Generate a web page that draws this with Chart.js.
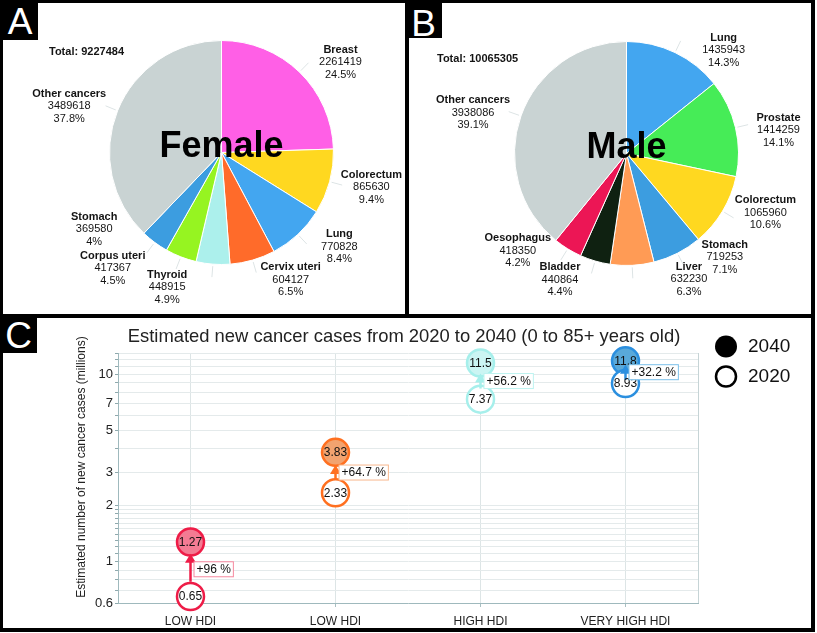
<!DOCTYPE html>
<html><head><meta charset="utf-8">
<script src="https://cdn.jsdelivr.net/npm/chart.js@4.4.1/dist/chart.umd.min.js"></script>
<style>
html,body{margin:0;padding:0;background:#fff;}
#wrap{position:relative;width:817px;height:633px;overflow:hidden;font-family:"Liberation Sans",Arial,sans-serif;background:#fff;}
canvas{position:absolute;}
.bar{position:absolute;background:#000;}
.tag{position:absolute;background:#000;overflow:hidden;}
.tag span{position:absolute;left:0;width:100%;text-align:center;color:#fff;font-size:37px;line-height:37px;}
</style></head>
<body><div id="wrap">
<canvas id="pieF" width="406" height="315" style="left:0;top:0"></canvas>
<canvas id="pieM" width="411" height="315" style="left:406px;top:0"></canvas>
<canvas id="hdi" width="817" height="318" style="left:0;top:315px"></canvas>
<div class="bar" style="left:0;top:0;width:815px;height:3px"></div>
<div class="bar" style="left:0;top:0;width:3px;height:632px"></div>
<div class="bar" style="left:811px;top:0;width:4px;height:632px"></div>
<div class="bar" style="left:0;top:628px;width:815px;height:4px"></div>
<div class="bar" style="left:405px;top:0;width:4px;height:316px"></div>
<div class="bar" style="left:0;top:314px;width:815px;height:4px"></div>
<div class="tag" style="left:0;top:0;width:38px;height:40px"><span style="top:3px;left:1px">A</span></div>
<div class="tag" style="left:405px;top:0;width:37px;height:38px"><span style="top:5px">B</span></div>
<div class="tag" style="left:0;top:314px;width:37px;height:39px"><span style="top:3px">C</span></div>
</div>
<script>
// ---------- data ----------
const femaleSites = ['Breast','Colorectum','Lung','Cervix uteri','Thyroid','Corpus uteri','Stomach','Other cancers'];
const femaleCases = [2261419,865630,770828,604127,448915,417367,369580,3489618];
const femaleTotal = 9227484;
const maleSites = ['Lung','Prostate','Colorectum','Stomach','Liver','Bladder','Oesophagus','Other cancers'];
const maleCases = [1435943,1414259,1065960,719253,632230,440864,418350,3938086];
const maleTotal = 10065305;

const hdiGroups = ['LOW HDI','LOW HDI','HIGH HDI','VERY HIGH HDI'];
const cases2020 = [0.65,2.33,7.37,8.93];
const cases2040 = [1.27,3.83,11.5,11.8];
const changeText = ['+96 %','+64.7 %','+56.2 %','+32.2 %'];
const yTickLabels = [0.6,1,2,3,5,7,10];
const yGridLines = [0.6,0.7,0.8,0.9,1,1.1,1.2,1.3,1.4,1.5,1.6,1.7,1.8,1.9,2,3,4,5,6,7,8,9,10,11,12,13];
const seriesNames = ['2040','2020'];
const chartTitle = 'Estimated new cancer cases from 2020 to 2040 (0 to 85+ years old)';
const yAxisTitle = 'Estimated number of new cancer cases (millions)';

// ---------- style ----------
const FONT = '"Liberation Sans", Arial, sans-serif';
Chart.defaults.font.family = FONT;
const femaleColors = ['#ff5fe6','#ffd820','#43a6f0','#ff6b2a','#acf0ec','#96f421','#3c9de0','#c9d3d3'];
const maleColors = ['#43a6f0','#46ec57','#ffd820','#3c9de0','#ff9b55','#0f2111','#ec1655','#c9d3d3'];
const femaleNudge = [[16,16],[7,-4],[17,-14],[28,-15],[-43,-13],[-55,-22],[-39,-42],[-15,9]];
const maleNudge = [[33,30],[8,11],[12,-17],[31,-28],[55,-22],[-25,-16],[-31,-29],[-14,9]];
const hdiColors = ['#ee1c47','#ff7020','#a6efeb','#2b8fdf'];
const hdiFill2040 = ['#f37b93','#f2a36f','#cbf5f3','#59a9da'];
const hdiBoxBorder = ['#f6889e','#f8b88e','#bdf3f0','#7cc0ea'];

function pieDecor(opts){
  return {
    id: 'pieDecor',
    afterDatasetsDraw(chart){
      const ctx = chart.ctx;
      const meta = chart.getDatasetMeta(0);
      const vals = chart.data.datasets[0].data;
      const labels = chart.data.labels;
      ctx.save();
      let cx = 0, cy = 0;
      meta.data.forEach((arc, i) => {
        const mid = (arc.startAngle + arc.endAngle) / 2;
        const R = arc.outerRadius;
        cx = arc.x; cy = arc.y;
        ctx.strokeStyle = '#dde4e5'; ctx.lineWidth = 1;
        ctx.beginPath();
        ctx.moveTo(cx + Math.cos(mid)*(R+2), cy + Math.sin(mid)*(R+2));
        ctx.lineTo(cx + Math.cos(mid)*(R+13), cy + Math.sin(mid)*(R+13));
        ctx.stroke();
        const ax = cx + Math.cos(mid)*(R+36) + opts.nudge[i][0];
        const ay = cy + Math.sin(mid)*(R+36) + opts.nudge[i][1];
        const pct = parseFloat((vals[i] / opts.total * 100).toFixed(1));
        ctx.fillStyle = '#141414'; ctx.textAlign = 'center'; ctx.textBaseline = 'middle';
        ctx.font = 'bold 11px ' + FONT;
        ctx.fillText(labels[i], ax, ay - 12.5);
        ctx.font = '11px ' + FONT;
        ctx.fillText(String(vals[i]), ax, ay);
        ctx.fillText(pct + '%', ax, ay + 12.5);
      });
      ctx.fillStyle = '#000';
      ctx.font = 'bold 36px ' + FONT;
      ctx.textAlign = 'center'; ctx.textBaseline = 'alphabetic';
      ctx.fillText(opts.title, cx, cy + 4);
      ctx.font = 'bold 11px ' + FONT;
      ctx.fillStyle = '#141414';
      ctx.textAlign = 'left'; ctx.textBaseline = 'middle';
      ctx.fillText('Total: ' + opts.total, chart.chartArea.left + opts.totalDx, chart.chartArea.top + opts.totalDy);
      ctx.restore();
    }
  };
}

function makePie(id, labels, values, colors, padding, opts){
  return new Chart(document.getElementById(id), {
    type: 'pie',
    data: { labels: labels, datasets: [{ data: values, backgroundColor: colors, borderColor: '#ffffff', borderWidth: 1, hoverOffset: 0 }] },
    options: {
      responsive: false, animation: false, events: [],
      layout: { padding: padding },
      plugins: { legend: { display: false }, tooltip: { enabled: false } }
    },
    plugins: [pieDecor(opts)]
  });
}

makePie('pieF', femaleSites, femaleCases, femaleColors, {left:109,right:72,top:40,bottom:50},
  {title:'Female', total:femaleTotal, nudge:femaleNudge, totalDx:-60, totalDy:12});
makePie('pieM', maleSites, maleCases, maleColors, {left:108,right:78,top:41,bottom:49},
  {title:'Male', total:maleTotal, nudge:maleNudge, totalDx:-77, totalDy:18});

// ---------- panel C ----------
const PR = 13.5, PBW = 2.5;
const hdiDecor = {
  id: 'hdiDecor',
  beforeDatasetsDraw(chart){
    const {ctx, chartArea:a} = chart;
    ctx.save();
    ctx.strokeStyle = '#c6d4d6'; ctx.lineWidth = 1;
    ctx.beginPath(); ctx.moveTo(a.right + 0.5, a.top); ctx.lineTo(a.right + 0.5, a.bottom); ctx.stroke();
    ctx.restore();
  },
  afterDatasetsDraw(chart){
    const ctx = chart.ctx;
    const ys = chart.scales.y;
    const m20 = chart.getDatasetMeta(0), m40 = chart.getDatasetMeta(1);
    ctx.save();
    for (let i = 0; i < hdiGroups.length; i++){
      const x = m20.data[i].x, y0 = m20.data[i].y, y1 = m40.data[i].y;
      const r = PR + PBW/2;
      let tail = y0 - r, tip = y1 + r - 3;
      if (tail - tip < 14){ const m = (y0 + y1)/2; tip = m - 7.5; tail = m + 7.5; }
      ctx.strokeStyle = hdiColors[i]; ctx.fillStyle = hdiColors[i]; ctx.lineWidth = 2.5;
      ctx.beginPath(); ctx.moveTo(x, tail); ctx.lineTo(x, tip + 7); ctx.stroke();
      ctx.beginPath(); ctx.moveTo(x, tip); ctx.lineTo(x - 5.5, tip + 9); ctx.lineTo(x + 5.5, tip + 9); ctx.closePath(); ctx.fill();
    }
    ctx.font = '12px ' + FONT; ctx.textAlign = 'center'; ctx.textBaseline = 'middle'; ctx.fillStyle = '#111';
    for (let i = 0; i < hdiGroups.length; i++){
      ctx.fillText(String(cases2040[i]), m40.data[i].x, m40.data[i].y + 0.5);
      ctx.fillText(String(cases2020[i]), m20.data[i].x, m20.data[i].y + 0.5);
    }
    for (let i = 0; i < hdiGroups.length; i++){
      const x = m20.data[i].x;
      const ym = ys.getPixelForValue(Math.sqrt(cases2020[i]*cases2040[i]));
      const w = ctx.measureText(changeText[i]).width;
      ctx.fillStyle = '#fff';
      ctx.fillRect(x + 3.5, ym - 7.5, w + 5, 15);
      ctx.strokeStyle = hdiBoxBorder[i]; ctx.lineWidth = 1;
      ctx.strokeRect(x + 3.5, ym - 7.5, w + 5, 15);
      ctx.fillStyle = '#111'; ctx.textAlign = 'left';
      ctx.fillText(changeText[i], x + 6, ym + 0.5);
    }
    // title
    ctx.fillStyle = '#222'; ctx.textAlign = 'center'; ctx.textBaseline = 'middle';
    ctx.font = '18.4px ' + FONT;
    ctx.fillText(chartTitle, 404, 22);
    // y axis title
    ctx.save();
    ctx.translate(82, 152); ctx.rotate(-Math.PI/2);
    ctx.font = '12px ' + FONT;
    ctx.fillText(yAxisTitle, 0, 0);
    ctx.restore();
    // legend
    ctx.fillStyle = '#000';
    ctx.beginPath(); ctx.arc(726, 31.5, 11, 0, Math.PI*2); ctx.fill();
    ctx.fillStyle = '#fff'; ctx.strokeStyle = '#000'; ctx.lineWidth = 2.5;
    ctx.beginPath(); ctx.arc(726, 61.5, 10, 0, Math.PI*2); ctx.fill(); ctx.stroke();
    ctx.fillStyle = '#111'; ctx.font = '19px ' + FONT; ctx.textAlign = 'left';
    ctx.fillText(seriesNames[0], 748, 32);
    ctx.fillText(seriesNames[1], 748, 62);
    ctx.restore();
  }
};

new Chart(document.getElementById('hdi'), {
  type: 'line',
  data: {
    labels: hdiGroups,
    datasets: [
      { label: seriesNames[1], data: cases2020, showLine: false, pointRadius: PR, pointBorderWidth: PBW,
        pointBackgroundColor: '#ffffff', pointBorderColor: hdiColors, clip: false },
      { label: seriesNames[0], data: cases2040, showLine: false, pointRadius: PR, pointBorderWidth: PBW,
        pointBackgroundColor: hdiFill2040, pointBorderColor: hdiColors, clip: false }
    ]
  },
  options: {
    responsive: false, animation: false, events: [],
    layout: { padding: { left: 0, right: 119, top: 38, bottom: 0 } },
    plugins: { legend: { display: false }, tooltip: { enabled: false }, title: { display: false } },
    scales: {
      x: {
        type: 'category', offset: true,
        grid: { offset: false, color: '#dde5e6', tickLength: 4, tickColor: '#a9bfc2' },
        border: { color: '#9fb9bd' },
        ticks: { color: '#222', font: { size: 12 }, padding: 7, autoSkip: false, maxRotation: 0 },
        afterFit(s){ s.height = 30; }
      },
      y: {
        type: 'logarithmic', min: 0.6, max: 13,
        afterBuildTicks(s){ s.ticks = yGridLines.map(v => ({ value: v })); },
        ticks: { autoSkip: false, color: '#222', font: { size: 13 }, padding: 2,
          callback(v){ return yTickLabels.includes(v) ? String(v) : ''; } },
        grid: { color: '#e4eaeb', tickLength: 3, tickColor: '#8fa9ad' },
        border: { color: '#9fb9bd' },
        afterFit(s){ s.width = 118; }
      }
    }
  },
  plugins: [hdiDecor]
});
</script>
</body></html>
